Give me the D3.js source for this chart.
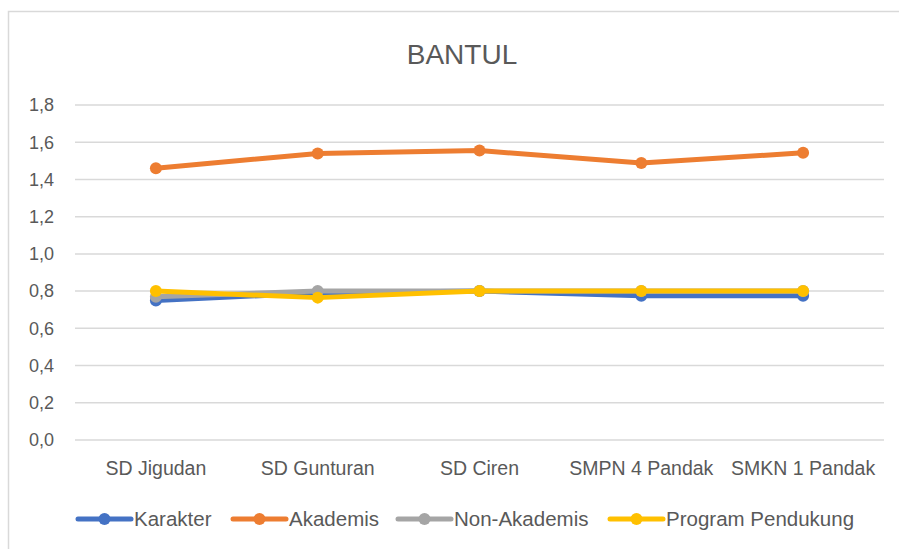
<!DOCTYPE html>
<html>
<head>
<meta charset="utf-8">
<script src="https://cdn.jsdelivr.net/npm/d3@7"></script>
<style>
  body { margin: 0; background: #fff; }
  text { font-family: "Liberation Sans", Arial, sans-serif; fill: #595959; }
</style>
</head>
<body>
<div id="chart"></div>
<script>
// data
var schools = ["SD Jigudan", "SD Gunturan", "SD Ciren", "SMPN 4 Pandak", "SMKN 1 Pandak"];
var karakter = [0.75, 0.79, 0.80, 0.775, 0.775];
var akademis = [1.46, 1.54, 1.555, 1.488, 1.543];
var nonAkademis = [0.77, 0.80, 0.80, 0.80, 0.80];
var pendukung = [0.80, 0.765, 0.80, 0.80, 0.80];
var seriesNames = ["Karakter", "Akademis", "Non-Akademis", "Program Pendukung"];
var seriesColors = ["#4472C4", "#ED7D31", "#A5A5A5", "#FFC000"];
var yTicks = [0, 0.2, 0.4, 0.6, 0.8, 1.0, 1.2, 1.4, 1.6, 1.8];

var series = [karakter, akademis, nonAkademis, pendukung].map(function(v, i) {
	return { name: seriesNames[i], color: seriesColors[i], values: v };
});

var w = 899, h = 549;
var plotL = 75, plotR = 884, plotT = 105, plotB = 440;

var svg = d3.select("#chart").append("svg")
	.attr("width", w)
	.attr("height", h);

// chart frame
svg.append("rect")
	.attr("x", 8.5).attr("y", 11.5)
	.attr("width", w).attr("height", h)
	.attr("fill", "none")
	.attr("stroke", "#d9d9d9")
	.attr("stroke-width", 1.5);

svg.append("text")
	.text("BANTUL")
	.attr("x", 462).attr("y", 64)
	.attr("text-anchor", "middle")
	.attr("font-size", "28px");

// scales
var x = d3.scaleBand().domain(schools).range([plotL, plotR]);
var y = d3.scaleLinear().domain([0, 1.8]).range([plotB, plotT]);

// gridlines
svg.append("g").selectAll("line")
	.data(yTicks)
	.enter().append("line")
	.attr("x1", plotL).attr("x2", plotR)
	.attr("y1", function(d) { return y(d); })
	.attr("y2", function(d) { return y(d); })
	.attr("stroke", "#d9d9d9")
	.attr("stroke-width", 1.5);

// y labels
svg.append("g").selectAll("text")
	.data(yTicks)
	.enter().append("text")
	.text(function(d) { return d.toFixed(1).replace(".", ","); })
	.attr("x", 54)
	.attr("y", function(d) { return y(d); })
	.attr("dy", "0.35em")
	.attr("text-anchor", "end")
	.attr("font-size", "18px");

// x labels
svg.append("g").selectAll("text")
	.data(schools)
	.enter().append("text")
	.text(function(d) { return d; })
	.attr("x", function(d) { return x(d) + x.bandwidth() / 2; })
	.attr("y", 475)
	.attr("text-anchor", "middle")
	.attr("font-size", "19.5px");

// lines
var line = d3.line()
	.x(function(d, i) { return x(schools[i]) + x.bandwidth() / 2; })
	.y(function(d) { return y(d); });

var groups = svg.append("g").selectAll("g")
	.data(series)
	.enter().append("g");

groups.append("path")
	.attr("d", function(d) { return line(d.values); })
	.attr("fill", "none")
	.attr("stroke", function(d) { return d.color; })
	.attr("stroke-width", 5)
	.attr("stroke-linejoin", "round")
	.attr("stroke-linecap", "round");

groups.selectAll("circle")
	.data(function(d) { return d.values.map(function(v) { return { v: v, color: d.color }; }); })
	.enter().append("circle")
	.attr("cx", function(d, i) { return x(schools[i]) + x.bandwidth() / 2; })
	.attr("cy", function(d) { return y(d.v); })
	.attr("r", 6)
	.attr("fill", function(d) { return d.color; });

// legend
var legendX = [78, 233, 398, 610];
var legend = svg.append("g").selectAll("g")
	.data(series)
	.enter().append("g")
	.attr("transform", function(d, i) { return "translate(" + legendX[i] + ",519)"; });

legend.append("line")
	.attr("x1", 0).attr("x2", 53)
	.attr("stroke", function(d) { return d.color; })
	.attr("stroke-width", 5)
	.attr("stroke-linecap", "round");

legend.append("circle")
	.attr("cx", 26.5).attr("r", 6)
	.attr("fill", function(d) { return d.color; });

legend.append("text")
	.text(function(d) { return d.name; })
	.attr("x", 56)
	.attr("dy", "0.35em")
	.attr("font-size", "20.5px");
</script>
</body>
</html>
